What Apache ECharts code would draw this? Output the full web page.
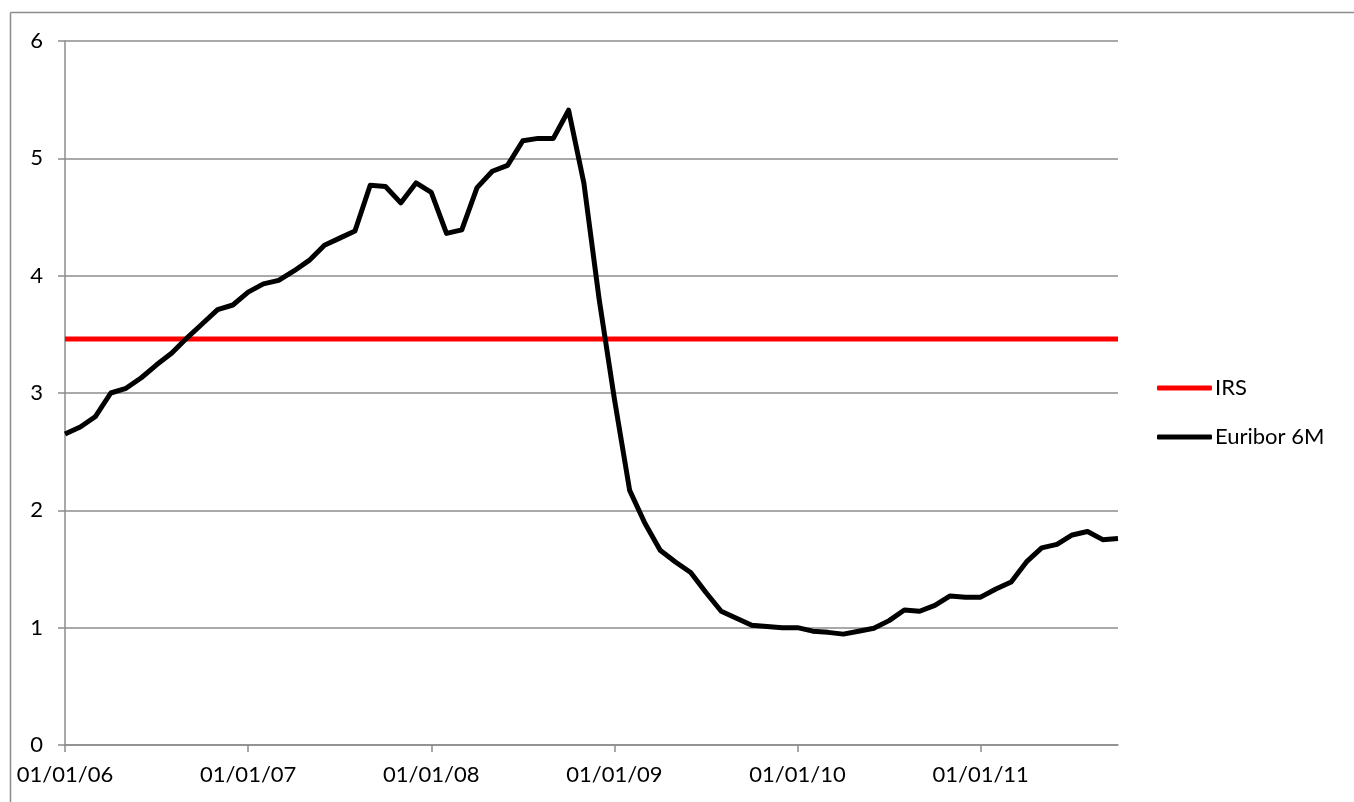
<!DOCTYPE html>
<html>
<head>
<meta charset="utf-8">
<title>IRS vs Euribor 6M</title>
<script src="https://cdn.jsdelivr.net/npm/echarts@6/dist/echarts.min.js"></script>
<style>
    html, body { margin: 0; padding: 0; background: #fff; }
    #main { width: 1354px; height: 802px; }
</style>
</head>
<body>
<div id="main"></div>
<script>
// monthly dates, 01/01/06 .. 01/10/11
var months = [];
for (var y = 6; y <= 11; y++) {
    for (var m = 1; m <= 12; m++) {
        if (y === 11 && m > 10) break;
        months.push('01/' + (m < 10 ? '0' + m : m) + '/' + (y < 10 ? '0' + y : y));
    }
}

var euribor6m = [
    2.65, 2.71, 2.80, 3.00, 3.04, 3.13, 3.24, 3.34, 3.47, 3.59, 3.71, 3.75,
    3.86, 3.93, 3.96, 4.04, 4.13, 4.26, 4.32, 4.38, 4.77, 4.76, 4.62, 4.79,
    4.71, 4.36, 4.39, 4.75, 4.89, 4.94, 5.15, 5.17, 5.17, 5.41, 4.79, 3.80,
    2.95, 2.17, 1.89, 1.66, 1.56, 1.47, 1.30, 1.14, 1.08, 1.02, 1.01, 1.00,
    1.00, 0.97, 0.96, 0.945, 0.97, 0.995, 1.06, 1.15, 1.14, 1.19, 1.27, 1.26,
    1.26, 1.33, 1.39, 1.56, 1.68, 1.71, 1.79, 1.82, 1.75, 1.76
];

var irsRate = 3.46;
var irs = months.map(function () {
    return irsRate;
});

var gridColor = '#8c8c8c';
var font = 'Lato, "Open Sans", sans-serif';

var chart = echarts.init(document.getElementById('main'));
chart.setOption({
    animation: false,
    backgroundColor: '#fff',
    textStyle: { fontFamily: font },
    grid: {
        left: 65,
        right: 236,
        top: 41,
        bottom: 57
    },
    legend: {
        orient: 'vertical',
        left: 1157,
        top: 377,
        padding: 0,
        itemWidth: 55,
        itemHeight: 5,
        itemGap: 27,
        icon: 'roundRect',
        textStyle: { fontSize: 22, color: '#000', fontFamily: font, padding: [0, 0, 0, -2] },
        data: ['IRS', 'Euribor 6M']
    },
    graphic: [
        { type: 'line', shape: { x1: 10.5, y1: 12.5, x2: 1354, y2: 12.5 }, style: { stroke: '#8c8c8c', lineWidth: 1.5 } },
        { type: 'line', shape: { x1: 10.5, y1: 12.5, x2: 10.5, y2: 802 }, style: { stroke: '#8c8c8c', lineWidth: 1.5 } }
    ],
    xAxis: {
        type: 'category',
        boundaryGap: false,
        data: months,
        axisLine: { lineStyle: { color: gridColor, width: 1.5 } },
        axisTick: { interval: 11, length: 7, lineStyle: { color: gridColor, width: 1.5 } },
        axisLabel: {
            interval: 11,
            margin: 19,
            fontSize: 22,
            color: '#000',
            fontFamily: font
        },
        splitLine: { show: false }
    },
    yAxis: {
        type: 'value',
        min: 0,
        max: 6,
        interval: 1,
        axisLine: { show: true, lineStyle: { color: gridColor, width: 1.5 } },
        axisTick: { show: true, length: 7, lineStyle: { color: gridColor, width: 1.5 } },
        axisLabel: { margin: 22, fontSize: 22, color: '#000', fontFamily: font },
        splitLine: { lineStyle: { color: gridColor, width: 1.5 } }
    },
    series: [
        {
            name: 'IRS',
            type: 'line',
            data: irs,
            symbol: 'none',
            color: '#ff0000',
            lineStyle: { color: '#ff0000', width: 5 }
        },
        {
            name: 'Euribor 6M',
            type: 'line',
            data: euribor6m,
            symbol: 'none',
            color: '#000000',
            lineStyle: { color: '#000000', width: 5, join: 'round' }
        }
    ]
});
</script>
</body>
</html>
